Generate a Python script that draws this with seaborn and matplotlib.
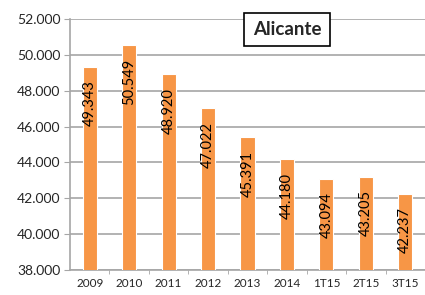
import matplotlib
matplotlib.use('Agg')
import matplotlib.pyplot as plt
import seaborn as sns
import pandas as pd
from matplotlib.ticker import FuncFormatter, FixedLocator

# datos Alicante
periodos = ['2009', '2010', '2011', '2012', '2013', '2014', '1T15', '2T15', '3T15']
valores = [49343, 50549, 48920, 47022, 45391, 44180, 43094, 43205, 42237]
etiquetas = ['49.343', '50.549', '48.920', '47.022', '45.391', '44.180', '43.094', '43.205', '42.237']

df = pd.DataFrame({'periodo': periodos, 'valor': valores})

sns.set_style('white')
plt.rcParams['font.family'] = ['Lato', 'DejaVu Sans']

fig = plt.figure(figsize=(4.25, 2.95), dpi=100)
ax = fig.add_axes([70/425, 1 - 270/295, 355/425, 251/295])

sns.barplot(data=df, x='periodo', y='valor', color='#F79646', saturation=1, width=0.36,
            edgecolor='white', linewidth=0.8, ax=ax, zorder=3)

ax.set_ylim(38000, 52000)
ax.set_xlim(-0.5, 8.5)
ax.yaxis.set_major_locator(FixedLocator(range(38000, 52001, 2000)))
ax.yaxis.set_major_formatter(FuncFormatter(lambda v, p: f'{int(v):,}'.replace(',', '.')))
ax.grid(axis='y', color='#A6A6A6', linewidth=1.2, zorder=0)
ax.set_xlabel('')
ax.set_ylabel('')

for s in ['top', 'right']:
    ax.spines[s].set_visible(False)
for s in ['left', 'bottom']:
    ax.spines[s].set_color('#A6A6A6')
    ax.spines[s].set_linewidth(1.2)

ax.tick_params(axis='y', labelsize=10, length=4, color='#A6A6A6', left=True, pad=3)
ax.tick_params(axis='x', labelsize=8.5, length=0, pad=6)
ax.set_xticks(range(len(periodos)), periodos, minor=False)
ax.set_xticks([i + 0.5 for i in range(len(periodos))], minor=True)
ax.tick_params(axis='x', which='minor', length=3, color='#A6A6A6', bottom=True)

# etiquetas de valores dentro de la barra
for i, (v, t) in enumerate(zip(valores, etiquetas)):
    ax.text(i, v - 750, t, rotation=90, ha='center', va='top', fontsize=10.5,
            color='black', zorder=4)

ax.text(0.611, 0.958, 'Alicante', transform=ax.transAxes, fontsize=13.5,
        fontweight='bold', ha='center', va='center', zorder=5,
        bbox=dict(boxstyle='square,pad=0.45', facecolor='white',
                  edgecolor='black', linewidth=1.2))

fig.savefig('out.png', dpi=100)
